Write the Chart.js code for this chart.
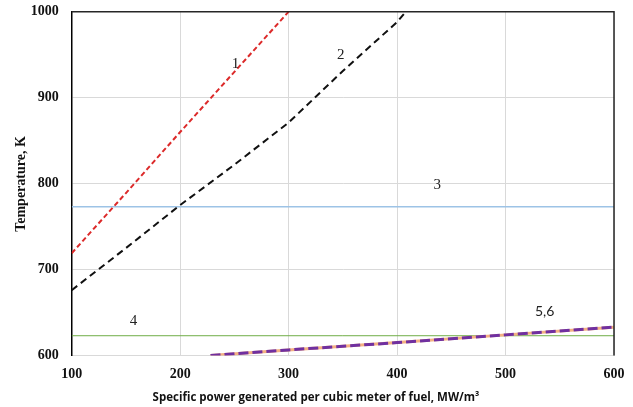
<!DOCTYPE html>
<html>
<head>
<meta charset="utf-8">
<script src="https://cdn.jsdelivr.net/npm/chart.js@4.4.1/dist/chart.umd.min.js"></script>
<style>
  html, body { margin: 0; padding: 0; background: #fff; }
  #wrap { width: 633px; height: 407px; }
</style>
</head>
<body>
<div id="wrap"><canvas id="tempChart" width="633" height="407"></canvas></div>
<script>
// power values (MW/m3) and temperatures (K)
const power1 = [100, 150, 200, 250, 300];
const temp1 = [719, 789, 860, 930, 1000];

const power2 = [100, 150, 200, 250, 300, 350, 400, 410];
const temp2 = [676, 725, 775, 822, 871, 931, 988, 1003];

const power3 = [100, 600];
const temp3 = [773, 773];

const power4 = [100, 600];
const temp4 = [623, 623];

const power56 = [228, 300, 400, 500, 600];
const temp56 = [600, 606.5, 615, 624, 633];

const xTicks = [100, 200, 300, 400, 500, 600];
const yTicks = [600, 700, 800, 900, 1000];

// curve labels, placed at data coordinates
const curveLabels = ['1', '2', '3', '4', '5,6'];
const labelPower = [251, 348, 437, 157, 536];
const labelTemp = [939, 949, 798, 640, 651];

const xTitle = 'Specific power generated per cubic meter of fuel, MW/m\u00b3';
const yTitle = 'Temperature, K';

function toPoints(xs, ys) {
    return xs.map((x, i) => ({ x: x, y: ys[i] }));
}

const tickFont = { family: 'Liberation Serif', size: 14, weight: 'bold' };

const extras = {
    id: 'extras',
    afterDatasetsDraw(chart) {
        const { ctx, chartArea: a, scales } = chart;
        ctx.save();
        // top and right frame
        ctx.strokeStyle = '#262626';
        ctx.lineWidth = 1.5;
        ctx.beginPath();
        ctx.moveTo(a.left, a.top);
        ctx.lineTo(a.right, a.top);
        ctx.lineTo(a.right, a.bottom);
        ctx.stroke();

        // curve numbers
        ctx.fillStyle = '#222';
        ctx.textAlign = 'center';
        ctx.textBaseline = 'middle';
        curveLabels.forEach((t, i) => {
            ctx.font = t.includes(',') ? '14px Lato' : '15px "Liberation Serif"';
            ctx.fillText(t, scales.x.getPixelForValue(labelPower[i]), scales.y.getPixelForValue(labelTemp[i]));
        });
        ctx.restore();
    },
    afterDraw(chart) {
        const { ctx } = chart;
        ctx.save();
        ctx.fillStyle = '#111';
        ctx.textAlign = 'center';
        ctx.textBaseline = 'alphabetic';
        ctx.font = 'bold 11.5px "Open Sans"';
        ctx.fillText(xTitle, 316, 401);

        ctx.translate(21, 184);
        ctx.rotate(-Math.PI / 2);
        ctx.textBaseline = 'middle';
        ctx.font = 'bold 14px "Liberation Serif"';
        ctx.fillText(yTitle, 0, 0);
        ctx.restore();
    }
};

const ctx = document.getElementById('tempChart').getContext('2d');
new Chart(ctx, {
    type: 'scatter',
    data: {
        datasets: [{
            label: '1',
            data: toPoints(power1, temp1),
            showLine: true,
            borderColor: '#dc2a2a',
            borderWidth: 2,
            borderDash: [5, 3],
            pointRadius: 0,
            order: 1
        }, {
            label: '2',
            data: toPoints(power2, temp2),
            showLine: true,
            borderColor: '#111',
            borderWidth: 2,
            borderDash: [7, 4.5],
            pointRadius: 0,
            order: 2
        }, {
            label: '3',
            data: toPoints(power3, temp3),
            showLine: true,
            borderColor: '#9dc3e6',
            borderWidth: 1.5,
            pointRadius: 0,
            order: 6
        }, {
            label: '4',
            data: toPoints(power4, temp4),
            showLine: true,
            borderColor: '#70ad47',
            borderWidth: 1,
            pointRadius: 0,
            order: 5
        }, {
            label: '5',
            data: toPoints(power56, temp56),
            showLine: true,
            borderColor: '#f4b183',
            borderWidth: 3,
            pointRadius: 0,
            order: 4
        }, {
            label: '6',
            data: toPoints(power56, temp56),
            showLine: true,
            borderColor: '#7030a0',
            borderWidth: 3,
            borderDash: [10, 4],
            pointRadius: 0,
            order: 3
        }]
    },
    options: {
        responsive: false,
        animation: false,
        layout: { padding: { left: 0, right: 19, top: 11.7, bottom: 0 } },
        plugins: {
            legend: { display: false },
            tooltip: { enabled: false }
        },
        scales: {
            x: {
                type: 'linear',
                min: 100,
                max: 600,
                afterBuildTicks: (s) => { s.ticks = xTicks.map(v => ({ value: v })); },
                afterFit: (s) => { s.height = 51.5; s.paddingLeft = 0; s.paddingRight = 0; },
                grid: { color: '#d9d9d9', drawTicks: false },
                border: { color: '#d9d9d9' },
                ticks: { font: tickFont, color: '#111', padding: 10, callback: (v) => String(v) }
            },
            y: {
                type: 'linear',
                min: 600,
                max: 1000,
                afterBuildTicks: (s) => { s.ticks = yTicks.map(v => ({ value: v })); },
                afterFit: (s) => { s.width = 71.7; s.paddingTop = 0; s.paddingBottom = 0; },
                grid: { color: '#d9d9d9', drawTicks: false },
                border: { color: '#000', width: 1.5 },
                ticks: { font: tickFont, color: '#111', padding: 13, callback: (v) => String(v) }
            }
        }
    },
    plugins: [extras]
});
</script>
</body>
</html>
